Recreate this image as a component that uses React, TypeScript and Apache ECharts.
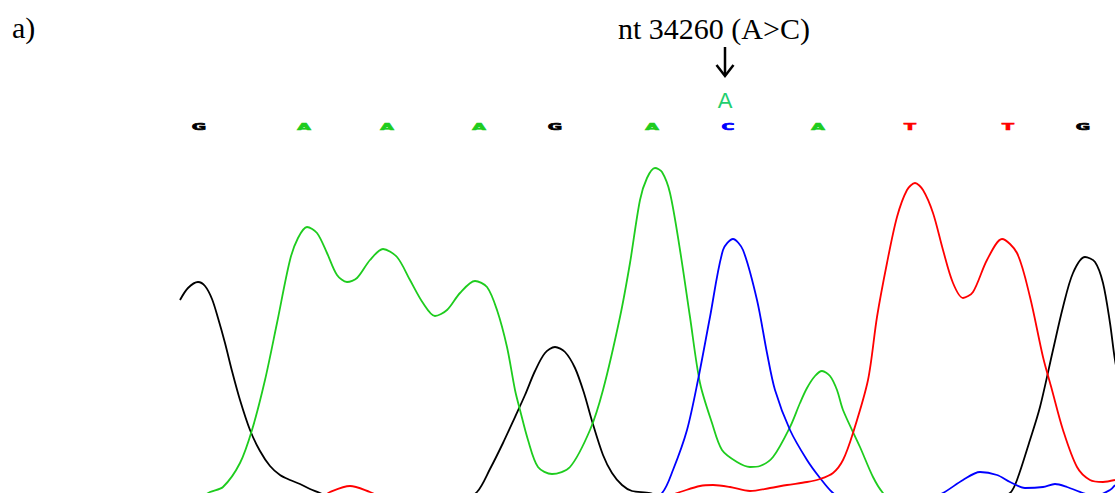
import React, { useEffect, useRef } from "react";
import * as echarts from "echarts";

// Trace data: [scan position, signal intensity]
const traceG: number[][] = [
  [180, 193], [188, 205], [198, 211], [205, 207], [212, 194], [218, 175], [225, 150], [232, 122], [240, 93],
  [250, 63], [260, 42], [270, 27], [280, 18], [290, 13], [300, 9], [310, 4], [320, 0], [335, -8], [400, -12],
  [460, -8], [477, 1], [490, 24], [503, 50], [515, 76], [525, 98], [535, 122], [545, 140], [555, 146],
  [565, 141], [575, 125], [584, 100], [592, 72], [603, 38], [612, 20], [622, 8], [632, 2], [650, 0],
  [670, -8], [800, -12], [990, -8], [1010, 0], [1017, 13], [1030, 53], [1040, 86], [1053, 143], [1063, 186],
  [1073, 220], [1085, 236], [1095, 231], [1103, 210], [1110, 170], [1115, 133], [1125, 80],
];

const traceA: number[][] = [
  [180, -10], [200, -5], [210, 1], [223, 6], [240, 30], [252, 63], [265, 113], [277, 170], [290, 233],
  [298, 255], [307, 266], [317, 260], [327, 240], [337, 218], [347, 211], [357, 215], [370, 233], [383, 244],
  [397, 236], [410, 213], [423, 190], [435, 177], [447, 183], [460, 200], [475, 212], [487, 206], [497, 183],
  [507, 146], [515, 103], [520, 83], [528, 53], [538, 26], [552, 19], [570, 26], [590, 63], [603, 103],
  [620, 176], [630, 230], [640, 293], [647, 315], [655, 325], [662, 321], [670, 300], [680, 243], [690, 176],
  [700, 110], [712, 70], [722, 43], [737, 31], [750, 26], [760, 27], [773, 36], [790, 66], [800, 90],
  [807, 105], [815, 117], [822, 122], [830, 117], [837, 103], [843, 83], [860, 46], [873, 16], [883, 0],
  [895, -10], [1115, -10],
];

const traceC: number[][] = [
  [180, -12], [640, -12], [662, 0], [673, 23], [687, 63], [698, 113], [710, 176], [723, 243], [733, 254],
  [743, 243], [757, 193], [767, 140], [775, 103], [790, 63], [807, 33], [820, 15], [833, 0], [850, -10],
  [920, -10], [943, 0], [963, 13], [980, 21], [997, 18], [1010, 11], [1025, 5], [1043, 6], [1055, 9],
  [1067, 6], [1083, 0], [1095, -3], [1110, 3], [1115, 8],
];

const traceT: number[][] = [
  [180, -10], [320, -5], [330, 1], [350, 7], [370, 1], [385, -5], [660, -5], [680, 1], [700, 7], [713, 8],
  [730, 6], [750, 2], [770, 5], [787, 8], [807, 11], [820, 14], [833, 20], [843, 33], [853, 60], [868, 113],
  [877, 176], [887, 230], [897, 276], [907, 303], [915, 310], [923, 303], [933, 280], [943, 243], [953, 210],
  [963, 195], [973, 201], [987, 233], [1002, 254], [1017, 240], [1030, 196], [1043, 136], [1052, 103],
  [1063, 63], [1077, 26], [1090, 13], [1103, 11], [1115, 13],
];

// Base calls
const baseLetters = ["G", "A", "A", "A", "G", "A", "C", "A", "T", "T", "G"];
const basePositions = [199, 304, 387, 479, 555, 652, 728, 818, 910, 1008, 1083];
const baseRowLevel = 366;

const baseColors: Record<string, string> = {
  G: "#000000",
  A: "#1ecc1e",
  C: "#0000ff",
  T: "#ff0000",
};

const titleLabel = "a)";
const mutationLabel = "nt 34260 (A>C)";
const altBase = "A";

export default function App() {
  const ref = useRef<HTMLDivElement>(null);
  useEffect(() => {
    if (!ref.current) return;
    const chart = echarts.init(ref.current, null, { renderer: "svg" });
    const line = (name: string, data: number[][], color: string) => ({
      name,
      type: "line",
      data,
      showSymbol: false,
      smooth: 0.3,
      clip: true,
      lineStyle: { color, width: 1.8 },
      silent: true,
    });
    const annotations: any[] = [
      {
        type: "text",
        x: 12,
        y: 27,
        style: {
          text: titleLabel,
          font: '30px "Liberation Serif"',
          fill: "#000",
          align: "left",
          verticalAlign: "middle",
        },
      },
      {
        type: "text",
        x: 618,
        y: 28,
        style: {
          text: mutationLabel,
          font: '30px "Liberation Serif"',
          fill: "#000",
          align: "left",
          verticalAlign: "middle",
        },
      },
      {
        type: "line",
        shape: { x1: 725, y1: 47, x2: 725, y2: 75 },
        style: { stroke: "#000", lineWidth: 2.5 },
      },
      {
        type: "polyline",
        shape: { points: [[716.5, 65], [725, 76], [733.5, 65]] },
        style: { stroke: "#000", lineWidth: 2.5, fill: "none" },
      },
      {
        type: "text",
        x: 725,
        y: 100,
        style: {
          text: altBase,
          font: '22px "Liberation Sans"',
          fill: "#1fcf6f",
          align: "center",
          verticalAlign: "middle",
        },
      },
    ];
    chart.setOption({
      animation: false,
      backgroundColor: "#ffffff",
      grid: { left: 0, right: 0, top: 0, bottom: 0 },
      xAxis: { type: "value", min: 0, max: 1115, show: false },
      yAxis: { type: "value", min: 0, max: 493, show: false },
      series: [
        line("G", traceG, "#000000"),
        line("A", traceA, "#1ecc1e"),
        line("C", traceC, "#0000ff"),
        line("T", traceT, "#ff0000"),
      ],
    });
    const letters = basePositions.map((x, i) => {
      const p = chart.convertToPixel({ xAxisIndex: 0, yAxisIndex: 0 }, [x, baseRowLevel]) as number[];
      const letter = baseLetters[i];
      return {
        type: "group",
        x: p[0],
        y: p[1],
        scaleX: 1.6,
        scaleY: 0.72,
        children: [
          {
            type: "text",
            x: 0,
            y: 0,
            style: {
              text: letter,
              fill: baseColors[letter],
              stroke: baseColors[letter],
              lineWidth: 0.8,
              font: '900 11px "DejaVu Sans"',
              align: "center",
              verticalAlign: "middle",
            },
          },
        ],
      };
    });
    chart.setOption({ graphic: [...annotations, ...letters] });
    return () => chart.dispose();
  }, []);
  return (
    <div
      ref={ref}
      style={{ position: "absolute", left: 0, top: 0, width: 1115, height: 493 }}
    />
  );
}
